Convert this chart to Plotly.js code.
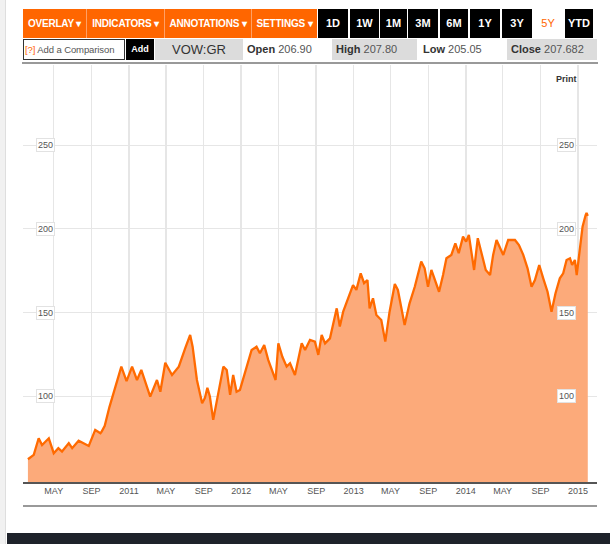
<!DOCTYPE html>
<html><head><meta charset="utf-8">
<script src="https://cdn.plot.ly/plotly-3.0.1.min.js"></script>
<style>
body{margin:0;padding:0;background:#fff;width:610px;height:544px;overflow:hidden;position:relative;font-family:"Liberation Sans",Arial,sans-serif;}
.abs{position:absolute;box-sizing:border-box;}
.ob{background:#ff6600;color:#fff;font-weight:bold;font-size:10px;top:9px;height:29px;line-height:29px;text-align:center;border-right:1px solid #ffa066;letter-spacing:-0.2px;}
.tb{background:#000;color:#fff;font-weight:bold;font-size:11px;top:9px;height:29px;line-height:29px;text-align:center;}
.r2{top:39px;height:21px;line-height:21px;font-size:10px;color:#555;}
.lbl{color:#333;font-weight:bold;}
#chart{position:absolute;left:0;top:0;width:610px;height:544px;}
</style></head>
<body>
<div class="abs" style="left:0;top:0;width:6px;height:544px;background:#f1f1f1;border-right:1px solid #dedede;"></div>
<div id="chart"></div>
<div class="abs ob" style="left:23px;width:64px;">OVERLAY ▾</div>
<div class="abs ob" style="left:87px;width:78px;">INDICATORS ▾</div>
<div class="abs ob" style="left:165px;width:87px;">ANNOTATIONS ▾</div>
<div class="abs ob" style="left:252px;width:65px;border-right:none;">SETTINGS ▾</div>
<div class="abs tb" style="left:318px;width:30px;">1D</div>
<div class="abs tb" style="left:350px;width:29px;">1W</div>
<div class="abs tb" style="left:380px;width:27px;">1M</div>
<div class="abs tb" style="left:408px;width:30px;">3M</div>
<div class="abs tb" style="left:440px;width:28px;">6M</div>
<div class="abs tb" style="left:470px;width:30px;">1Y</div>
<div class="abs tb" style="left:502px;width:30px;">3Y</div>
<div class="abs tb" style="left:533px;width:30px;background:#fff;color:#ff6600;font-weight:normal;">5Y</div>
<div class="abs tb" style="left:565px;width:28px;">YTD</div>

<div class="abs r2" style="left:23px;width:102px;border:1px solid #333;background:#fff;padding-left:1px;line-height:19px;white-space:nowrap;font-size:9.5px;letter-spacing:-0.1px;overflow:hidden;"><span style="color:#ff6600;">[?]</span> Add a Comparison</div>
<div class="abs r2" style="left:126px;width:28px;background:#000;color:#fff;font-weight:bold;text-align:center;font-size:9px;">Add</div>
<div class="abs r2" style="left:155px;width:88px;background:#dcdcdc;color:#333;text-align:center;font-size:13px;">VOW:GR</div>
<div class="abs r2" style="left:245px;width:85px;padding-left:2px;font-size:11px;"><span class="lbl">Open</span> 206.90</div>
<div class="abs r2" style="left:332px;width:85px;background:#dcdcdc;padding-left:4px;font-size:11px;"><span class="lbl">High</span> 207.80</div>
<div class="abs r2" style="left:419px;width:86px;padding-left:4px;font-size:11px;"><span class="lbl">Low</span> 205.05</div>
<div class="abs r2" style="left:507px;width:90px;background:#dcdcdc;padding-left:4px;font-size:11px;"><span class="lbl">Close</span> 207.682</div>
<div class="abs" style="left:22px;top:62px;width:576px;height:2px;background:#999;"></div>
<div class="abs" style="left:556px;top:74px;font-size:9px;font-weight:bold;color:#333;">Print</div>
<div class="abs" style="left:7px;top:533px;width:603px;height:11px;background:#1e222a;"></div>

<script>
const dates = ["2010-02-06","2010-02-25","2010-03-13","2010-03-24","2010-04-15","2010-05-01","2010-05-16","2010-05-28","2010-06-19","2010-06-30","2010-07-21","2010-08-05","2010-08-23","2010-09-13","2010-09-30","2010-10-04","2010-10-14","2010-10-29","2010-11-15","2010-11-23","2010-12-07","2010-12-24",
"2011-01-11","2011-01-27","2011-02-10","2011-03-11","2011-04-02","2011-04-13","2011-04-29","2011-05-21","2011-06-12","2011-07-03","2011-07-19","2011-07-27","2011-08-10","2011-08-27","2011-09-05","2011-09-13","2011-09-21","2011-10-02","2011-10-19","2011-11-04","2011-11-15","2011-11-26","2011-12-06","2011-12-17","2011-12-28",
"2012-01-13","2012-02-04","2012-02-20","2012-03-02","2012-03-16","2012-03-29","2012-04-22","2012-05-01","2012-05-14","2012-05-28","2012-06-08","2012-06-24","2012-07-16","2012-07-27","2012-08-12","2012-08-28","2012-09-08","2012-09-19","2012-09-30","2012-10-16","2012-11-07","2012-11-17","2012-11-28","2012-12-14","2012-12-30",
"2013-01-10","2013-01-24","2013-02-04","2013-02-15","2013-02-22","2013-03-05","2013-03-16","2013-04-01","2013-04-14","2013-04-28","2013-05-15","2013-05-25","2013-06-16","2013-07-02","2013-07-19","2013-08-09","2013-08-20","2013-08-31","2013-09-11","2013-09-22","2013-10-06","2013-10-19","2013-10-30","2013-11-15","2013-11-28","2013-12-09","2013-12-23",
"2014-01-02","2014-01-11","2014-01-28","2014-02-09","2014-02-24","2014-03-07","2014-03-21","2014-03-31","2014-04-11","2014-04-22","2014-05-03","2014-05-19","2014-06-10","2014-06-23","2014-07-07","2014-07-21","2014-08-03","2014-08-14","2014-08-20","2014-08-28","2014-09-10","2014-09-24","2014-10-07","2014-10-20","2014-11-03","2014-11-14","2014-11-25","2014-12-06","2014-12-13","2014-12-22","2014-12-28",
"2015-01-07","2015-01-16","2015-01-26","2015-01-29","2015-02-02"];
const prices = [62.4,65,74.9,70.9,74.9,66,69,67,72,69,73.5,72,70.3,79.9,77.9,78.9,82.3,93.4,103.8,107.8,117.7,109,
117.7,109.7,115.7,99.8,109.7,102.7,120,112.7,117.7,128.7,136.6,129.6,109.7,95.8,99,105,100,85.9,101.8,117.7,115.7,100.8,112.7,102.7,103.8,
113.7,127.6,129.6,125.7,130.6,121.7,109.7,131.6,123.6,117.7,119.7,112.7,131.6,127.6,133.6,132.6,124.7,136.6,131.6,134.6,152.5,141.6,150.5,158.5,166.4,
163.5,173.4,167.5,169.4,152.5,158.5,148.5,145.5,132.6,150.5,167,163.5,142.6,155.5,165.4,180.4,176.4,165.4,175.4,169.4,162.4,172.4,182.4,184.4,191.3,185.4,195.3,
192.3,196.3,175.4,194.4,183.4,175.4,172.4,184.4,193.3,188.4,184.4,193.3,193.3,190.3,184.4,176.4,165.4,169.4,173.4,178.4,170.4,162.4,150.5,161.5,170.4,173.4,181.4,182.4,178.4,181.4,172.4,
187.3,201.3,208.2,209.5,207.7];
const xTickVals = ["2010-05-01","2010-09-01","2011-01-01","2011-05-01","2011-09-01","2012-01-01","2012-05-01","2012-09-01","2013-01-01","2013-05-01","2013-09-01","2014-01-01","2014-05-01","2014-09-01","2015-01-01"];
const xTickText = ["MAY","SEP","2011","MAY","SEP","2012","MAY","SEP","2013","MAY","SEP","2014","MAY","SEP","2015"];
const yTickVals = [100,150,200,250];
const yTickText = ["100","150","200","250"];

const ann = [];
yTickVals.forEach((v,i)=>{
  [0.04,0.947].forEach(px=>{
    ann.push({x:px,xref:'paper',y:v,yref:'y',text:yTickText[i],showarrow:false,
      font:{family:'Liberation Sans, Arial',size:9,color:'#555'},bgcolor:'#fff',bordercolor:'#e2e2e2',borderwidth:1,borderpad:1,xanchor:'center',yanchor:'middle'});
  });
});

Plotly.newPlot('chart',[{
  x:dates,y:prices,type:'scatter',mode:'lines',
  line:{color:'#ff6a00',width:2.3},fill:'tozeroy',fillcolor:'#fcaa7a',hoverinfo:'skip'
}],{
  width:610,height:544,margin:{l:23,r:13,t:65,b:62},
  paper_bgcolor:'rgba(0,0,0,0)',plot_bgcolor:'#fff',showlegend:false,
  xaxis:{type:'date',range:['2010-01-21','2015-03-04'],tickvals:xTickVals,ticktext:xTickText,
    showgrid:true,gridcolor:'#e6e6e6',gridwidth:1.5,showline:true,linecolor:'#555',linewidth:1.5,ticks:'',
    tickfont:{family:'Liberation Sans, Arial',size:9,color:'#555'},zeroline:false,fixedrange:true},
  yaxis:{range:[48.8,297.8],tickvals:yTickVals,showticklabels:false,showgrid:true,gridcolor:'#e6e6e6',gridwidth:1,
    zeroline:false,showline:false,ticks:'',fixedrange:true},
  annotations:ann,
  shapes:[{type:'line',xref:'paper',yref:'paper',x0:0,x1:1,y0:-0.0576,y1:-0.0576,line:{color:'#777',width:1.5}}]
},{displayModeBar:false,staticPlot:true});
</script>
</body></html>
